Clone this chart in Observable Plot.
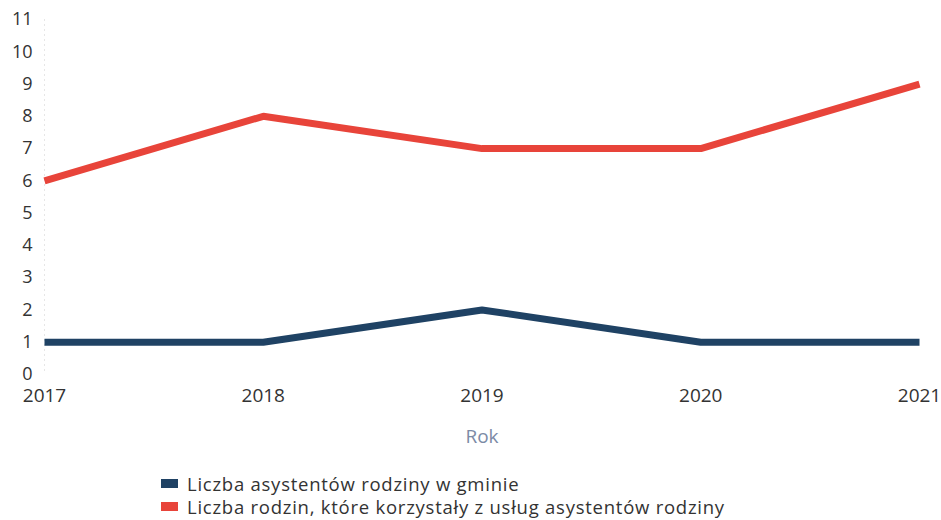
<!DOCTYPE html>
<html>
<head>
<meta charset="utf-8">
<script src="https://cdn.jsdelivr.net/npm/d3@7"></script>
<script src="https://cdn.jsdelivr.net/npm/@observablehq/plot@0.6"></script>
<style>
  body { margin: 0; background: #fff; font-family: "Open Sans", sans-serif; }
  #legend { margin-left: 161px; padding-top: 17px; font-size: 18.5px; letter-spacing: 0.75px; color: #333; line-height: 23px; }
  .row { display: flex; align-items: center; height: 23px; }
  .row span { line-height: 23px; }
  .sw { width: 17px; height: 9px; margin-right: 9px; }
</style>
</head>
<body>
<div id="chart"></div>
<div id="legend"></div>
<script>
const years = [2017, 2018, 2019, 2020, 2021];
const seriesNames = ["Liczba asystentów rodziny w gminie", "Liczba rodzin, które korzystały z usług asystentów rodziny"];
const assistants = [1, 1, 2, 1, 1];
const families = [6, 8, 7, 7, 9];
const colors = ["#1f4264", "#e8443a"];
const yTicks = [0, 1, 2, 3, 4, 5, 6, 7, 8, 9, 10, 11];

const data = [
  ...years.map((y, i) => ({year: y, value: assistants[i], series: seriesNames[0]})),
  ...years.map((y, i) => ({year: y, value: families[i], series: seriesNames[1]}))
];

const plot = Plot.plot({
  width: 941,
  height: 455,
  marginLeft: 44,
  marginRight: 22,
  marginTop: 19,
  marginBottom: 81,
  style: {fontFamily: "Open Sans, sans-serif", fontSize: "18px", color: "#333", background: "#fff"},
  x: {domain: [2017, 2021]},
  y: {domain: [0, 11]},
  color: {domain: seriesNames, range: colors},
  marks: [
    Plot.ruleX([2017], {stroke: "#e6e6e6", strokeDasharray: "2,3"}),
    Plot.axisX({ticks: years, tickFormat: "d", tickSize: 0, tickPadding: 14, label: null, fontSize: 19}),
    Plot.axisY({ticks: yTicks, tickSize: 0, tickPadding: 12, label: null, fontSize: 18}),
    Plot.line(data, {x: "year", y: "value", z: "series", stroke: "series", strokeWidth: 7, strokeLinecap: "butt", strokeLinejoin: "miter"}),
    Plot.text(["Rok"], {frameAnchor: "bottom", dy: 68, fill: "#7c8aa6", fontSize: 19})
  ]
});
document.getElementById("chart").appendChild(plot);

const legend = document.getElementById("legend");
seriesNames.forEach((name, i) => {
  const row = document.createElement("div");
  row.className = "row";
  const sw = document.createElement("span");
  sw.className = "sw";
  sw.style.background = colors[i];
  const t = document.createElement("span");
  t.textContent = name;
  row.appendChild(sw);
  row.appendChild(t);
  legend.appendChild(row);
});
</script>
</body>
</html>
